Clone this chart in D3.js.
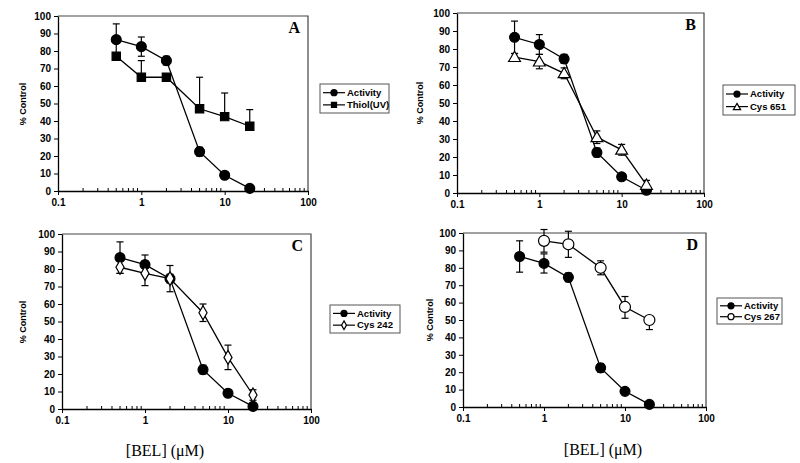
<!DOCTYPE html>
<html><head><meta charset="utf-8">
<script src="https://cdn.jsdelivr.net/npm/d3@7"></script>
<style>
body{margin:0;background:#fff;}
svg{display:block;}
.tick text{font-family:"Liberation Sans",Arial,sans-serif;font-weight:bold;font-size:10px;fill:#000;}
</style></head>
<body><svg id="c" width="800" height="463"></svg>
<script>
// ---- data ----
const concentrations = [0.5, 1, 2, 5, 10, 20];
const concentrations267 = [1, 2, 5, 10, 20];
const activity = [86.5, 82.5, 74.5, 22.5, 9, 1.5];
const activityErr = [9, 5.5, 2.5, 2.5, 1, 1];
const thiolUV = [77, 65, 65, 47, 42.5, 37];
const thiolUVErrUp = [0, 9.5, 0, 18, 13.5, 9.5];
const thiolUVErrDown = [0, 0, 0, 0, 0, 0];
const cys651 = [75.5, 73, 66.5, 31, 24, 4.5];
const cys651Err = [2, 4, 3, 3.5, 3, 2.5];
const cys242 = [81, 77.5, 74.5, 55, 29.5, 8];
const cys242Err = [3.5, 7, 7.5, 5, 7, 3];
const cys267 = [95.5, 93.5, 80, 57.5, 50];
const cys267ErrUp = [6.5, 7.5, 4, 6, 0];
const cys267ErrDown = [6.5, 7.5, 4, 6.5, 5.5];
const xTickValues = [0.1, 1, 10, 100];
const xTickLabels = ["0.1", "1", "10", "100"];
const yTickValues = [0, 10, 20, 30, 40, 50, 60, 70, 80, 90, 100];
const panelLetters = ["A", "B", "C", "D"];
const yTitle = "% Control";
const xTitle = "[BEL] (\u03BCM)";

// ---- layout ----
const panels = [
  {letter: panelLetters[0], box: [58, 308, 16, 191], legend: [320, 84, 69, 29], ylab: [23, 104], xtitle: null,
   series: [
     {name: "Activity", x: concentrations, y: activity, up: activityErr, down: activityErr, shape: "circle", fill: "#000"},
     {name: "Thiol(UV)", x: concentrations, y: thiolUV, up: thiolUVErrUp, down: thiolUVErrDown, shape: "square", fill: "#000"}]},
  {letter: panelLetters[1], box: [457, 704, 13, 193], legend: [723, 85, 72, 30], ylab: [420, 103], xtitle: null,
   series: [
     {name: "Activity", x: concentrations, y: activity, up: activityErr, down: activityErr, shape: "circle", fill: "#000"},
     {name: "Cys 651", x: concentrations, y: cys651, up: cys651Err, down: cys651Err, shape: "triangle", fill: "#fff"}]},
  {letter: panelLetters[2], box: [62, 311, 234, 409], legend: [330, 305, 70, 28], ylab: [23, 322], xtitle: [165, 450],
   series: [
     {name: "Activity", x: concentrations, y: activity, up: activityErr, down: activityErr, shape: "circle", fill: "#000"},
     {name: "Cys 242", x: concentrations, y: cys242, up: cys242Err, down: cys242Err, shape: "diamond", fill: "#fff"}]},
  {letter: panelLetters[3], box: [463, 706, 233, 407], legend: [717, 298, 65, 26], ylab: [430, 320], xtitle: [603, 449],
   series: [
     {name: "Activity", x: concentrations, y: activity, up: activityErr, down: activityErr, shape: "circle", fill: "#000"},
     {name: "Cys 267", x: concentrations267, y: cys267, up: cys267ErrUp, down: cys267ErrDown, shape: "circle", fill: "#fff"}]}
];

const svg = d3.select("#c");

function marker(g, shape, cx, cy, size, fill) {
  if (shape === "circle") {
    g.append("circle").attr("cx", cx).attr("cy", cy).attr("r", size * 0.55)
      .attr("fill", fill).attr("stroke", "#000").attr("stroke-width", 1.2);
  } else {
    const sym = {square: d3.symbolSquare, triangle: d3.symbolTriangle, diamond: d3.symbolDiamond}[shape];
    const area = {square: size * size * 0.85, triangle: size * size * 0.75, diamond: size * size * 0.7}[shape];
    g.append("path").attr("d", d3.symbol().type(sym).size(area)())
      .attr("transform", `translate(${cx},${cy + (shape === "triangle" ? 1 : 0)})`)
      .attr("fill", fill).attr("stroke", "#000").attr("stroke-width", 1.2);
  }
}

panels.forEach(p => {
  const [l, r, t, b] = p.box;
  const x = d3.scaleLog().domain([0.1, 100]).range([l, r]);
  const y = d3.scaleLinear().domain([0, 100]).range([b, t]);
  const g = svg.append("g");

  // frame top/right
  g.append("path").attr("d", `M${l},${t}H${r}V${b}`).attr("fill", "none")
    .attr("stroke", "#444").attr("stroke-width", 1.2);

  // minor x ticks
  g.selectAll(".minor").data(x.ticks().filter(v => !xTickValues.includes(v))).join("line")
    .attr("x1", d => x(d)).attr("x2", d => x(d)).attr("y1", b).attr("y2", b - 3)
    .attr("stroke", "#000").attr("stroke-width", 1);

  const xa = g.append("g").attr("transform", `translate(0,${b})`)
    .call(d3.axisBottom(x).tickValues(xTickValues).tickFormat((d, i) => xTickLabels[i]).tickSize(4).tickSizeOuter(0).tickPadding(4));
  const ya = g.append("g").attr("transform", `translate(${l},0)`)
    .call(d3.axisLeft(y).tickValues(yTickValues).tickSize(4).tickSizeOuter(0).tickPadding(3));
  [xa, ya].forEach(a => {
    a.select(".domain").attr("stroke", "#000").attr("stroke-width", 1.3);
    a.selectAll(".tick line").attr("stroke", "#000").attr("stroke-width", 1);
    a.selectAll(".tick text").style("font-size", "10px");
  });

  // y label
  g.append("text").attr("transform", `translate(${p.ylab[0]},${p.ylab[1]}) rotate(-90)`)
    .attr("text-anchor", "middle").attr("dy", "0.35em")
    .style("font-family", "'Liberation Sans',Arial,sans-serif").style("font-weight", "bold").style("font-size", "9px")
    .text(yTitle);

  // panel letter
  g.append("text").attr("x", r - 8).attr("y", t + 17).attr("text-anchor", "end")
    .style("font-family", "'Liberation Serif','Times New Roman',serif").style("font-weight", "bold").style("font-size", "16px")
    .text(p.letter);

  if (p.xtitle) {
    g.append("text").attr("x", p.xtitle[0]).attr("y", p.xtitle[1]).attr("text-anchor", "middle").attr("dy", "0.35em")
      .style("font-family", "'Liberation Serif','Times New Roman',serif").style("font-size", "16px")
      .text(xTitle);
  }

  const line = d3.line().x(d => x(d[0])).y(d => y(d[1]));
  // error bars
  p.series.forEach(s => {
    s.x.forEach((xv, i) => {
      const cx = x(xv);
      const top = s.y[i] + s.up[i], bot = s.y[i] - s.down[i];
      if (s.up[i] > 0 || s.down[i] > 0) {
        g.append("line").attr("x1", cx).attr("x2", cx).attr("y1", y(top)).attr("y2", y(bot))
          .attr("stroke", "#000").attr("stroke-width", 1.2);
      }
      if (s.up[i] > 0) g.append("line").attr("x1", cx - 3.5).attr("x2", cx + 3.5).attr("y1", y(top)).attr("y2", y(top)).attr("stroke", "#000").attr("stroke-width", 1.2);
      if (s.down[i] > 0) g.append("line").attr("x1", cx - 3.5).attr("x2", cx + 3.5).attr("y1", y(bot)).attr("y2", y(bot)).attr("stroke", "#000").attr("stroke-width", 1.2);
    });
  });
  // lines + markers
  p.series.forEach(s => {
    const pts = s.x.map((xv, i) => [xv, s.y[i]]);
    g.append("path").attr("d", line(pts)).attr("fill", "none").attr("stroke", "#000").attr("stroke-width", 1.3);
    pts.forEach(d => marker(g, s.shape, x(d[0]), y(d[1]), s.fill === "#fff" && s.shape === "circle" ? 10 : 9, s.fill));
  });

  // legend
  const [lx, ly, lw, lh] = p.legend;
  const lg = svg.append("g");
  lg.append("rect").attr("x", lx).attr("y", ly).attr("width", lw).attr("height", lh)
    .attr("fill", "#fff").attr("stroke", "#555").attr("stroke-width", 1);
  p.series.forEach((s, i) => {
    const cy = ly + lh * (i === 0 ? 0.3 : 0.72);
    lg.append("line").attr("x1", lx + 3).attr("x2", lx + 25).attr("y1", cy).attr("y2", cy).attr("stroke", "#000").attr("stroke-width", 1.2);
    marker(lg, s.shape, lx + 14, cy, 5.5, s.fill);
    lg.append("text").attr("x", lx + 27).attr("y", cy).attr("dy", "0.35em")
      .style("font-family", "'Liberation Sans',Arial,sans-serif").style("font-weight", "bold").style("font-size", "9.5px")
      .text(s.name);
  });
});
</script></body></html>
